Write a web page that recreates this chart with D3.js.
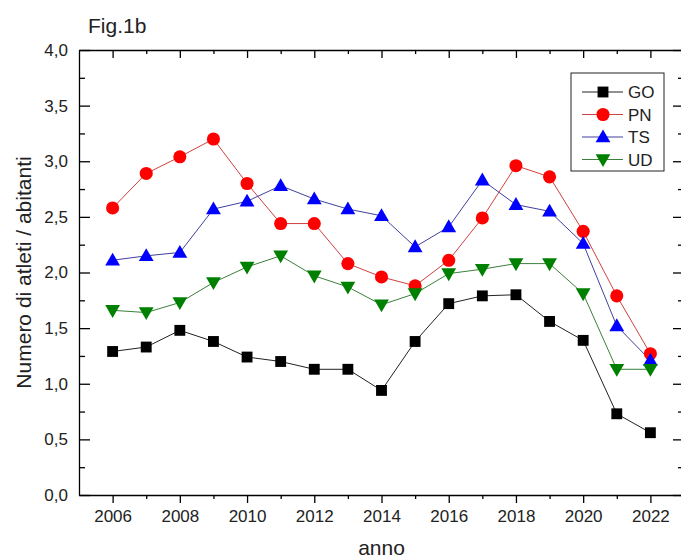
<!DOCTYPE html>
<html>
<head>
<meta charset="utf-8">
<script src="https://cdn.jsdelivr.net/npm/d3@7"></script>
<style>
  body { margin: 0; background: #fff; }
  svg { display: block; font-family: "Liberation Sans", Arial, sans-serif; }
  .axis path, .axis line { stroke: #000; stroke-width: 1.3; }
  .axis text { fill: #222; font-size: 17px; font-family: "Liberation Sans", Arial, sans-serif; }
</style>
</head>
<body>
<svg width="681" height="560"></svg>
<script>
var years = [2006, 2007, 2008, 2009, 2010, 2011, 2012, 2013, 2014, 2015, 2016, 2017, 2018, 2019, 2020, 2021, 2022];
var GO = [1.29, 1.33, 1.48, 1.38, 1.24, 1.20, 1.13, 1.13, 0.94, 1.38, 1.72, 1.79, 1.80, 1.56, 1.39, 0.73, 0.56];
var PN = [2.58, 2.89, 3.04, 3.20, 2.80, 2.44, 2.44, 2.08, 1.96, 1.88, 2.11, 2.49, 2.96, 2.86, 2.37, 1.79, 1.27];
var TS = [2.11, 2.15, 2.18, 2.57, 2.64, 2.78, 2.66, 2.57, 2.51, 2.23, 2.41, 2.83, 2.61, 2.55, 2.26, 1.52, 1.21];
var UD = [1.66, 1.64, 1.73, 1.91, 2.05, 2.15, 1.97, 1.87, 1.71, 1.81, 1.99, 2.03, 2.08, 2.08, 1.81, 1.13, 1.13];
var seriesNames = ["GO", "PN", "TS", "UD"];
var xTicks = [2006, 2008, 2010, 2012, 2014, 2016, 2018, 2020, 2022];
var yTicks = [0, 0.5, 1, 1.5, 2, 2.5, 3, 3.5, 4];

var series = [
  {name: "GO", values: GO, color: "#000000", line: "#222", shape: d3.symbolSquare, size: 118, rot: 0},
  {name: "PN", values: PN, color: "#ff0000", line: "#d04040", shape: d3.symbolCircle, size: 135, rot: 0},
  {name: "TS", values: TS, color: "#0000ff", line: "#4040a0", shape: d3.symbolTriangle, size: 95, rot: 0},
  {name: "UD", values: UD, color: "#008000", line: "#3a803a", shape: d3.symbolTriangle, size: 95, rot: 180}
];

var svg = d3.select("svg");
var margin = {top: 50, left: 79},
    width = 605,
    height = 445;

var x = d3.scaleLinear().domain([2005, 2023]).range([0, width]);
var y = d3.scaleLinear().domain([0, 4]).range([height, 0]);

var g = svg.append("g").attr("transform", "translate(" + margin.left + "," + margin.top + ")");

var fmt = function(d) { return d3.format(".1f")(d).replace(".", ","); };
var oddYears = d3.range(2007, 2023, 2);
var yMinor = d3.range(0.25, 4, 0.5);

// bottom axis, ticks outward
g.append("g").attr("class", "axis")
    .attr("transform", "translate(0," + height + ")")
    .call(d3.axisBottom(x).tickValues(xTicks).tickFormat(d3.format("d")).tickSizeInner(8).tickSizeOuter(0).tickPadding(7));
g.append("g").attr("class", "axis")
    .attr("transform", "translate(0," + height + ")")
    .call(d3.axisBottom(x).tickValues(oddYears).tickFormat("").tickSizeInner(4).tickSizeOuter(0))
    .select(".domain").remove();

// top axis, ticks inward
g.append("g").attr("class", "axis")
    .call(d3.axisTop(x).tickValues(xTicks).tickFormat("").tickSizeInner(-8).tickSizeOuter(0));
g.append("g").attr("class", "axis")
    .call(d3.axisTop(x).tickValues(oddYears).tickFormat("").tickSizeInner(-4).tickSizeOuter(0))
    .select(".domain").remove();

// left axis, ticks inward
g.append("g").attr("class", "axis")
    .call(d3.axisLeft(y).tickValues(yTicks).tickFormat(fmt).tickSizeInner(-11).tickSizeOuter(0).tickPadding(11));
g.append("g").attr("class", "axis")
    .call(d3.axisLeft(y).tickValues(yMinor).tickFormat("").tickSizeInner(-6).tickSizeOuter(0))
    .select(".domain").remove();

// right axis, ticks inward
g.append("g").attr("class", "axis")
    .attr("transform", "translate(" + width + ",0)")
    .call(d3.axisLeft(y).tickValues(yTicks).tickFormat("").tickSizeInner(11).tickSizeOuter(0));
g.append("g").attr("class", "axis")
    .attr("transform", "translate(" + width + ",0)")
    .call(d3.axisLeft(y).tickValues(yMinor).tickFormat("").tickSizeInner(6).tickSizeOuter(0))
    .select(".domain").remove();

// lines then markers
series.forEach(function(s) {
  var line = d3.line().x(function(d, i) { return x(years[i]); }).y(function(d) { return y(d); });
  g.append("path")
    .datum(s.values)
    .attr("fill", "none")
    .attr("stroke", s.line)
    .attr("stroke-width", 1)
    .attr("d", line);
});
series.forEach(function(s) {
  var sym = d3.symbol().type(s.shape).size(s.size);
  g.selectAll(null)
    .data(s.values)
    .enter().append("path")
    .attr("d", sym)
    .attr("fill", s.color)
    .attr("transform", function(d, i) {
      var dy = s.shape === d3.symbolTriangle ? (s.rot ? -1 : 1) : 0;
      return "translate(" + x(years[i]) + "," + (y(d) + dy) + ") rotate(" + s.rot + ")";
    });
});

// legend
var legend = svg.append("g").attr("transform", "translate(571,73)");
legend.append("rect")
  .attr("width", 93).attr("height", 98)
  .attr("fill", "#fff").attr("stroke", "#222").attr("stroke-width", 1);
series.forEach(function(s, i) {
  var row = legend.append("g").attr("transform", "translate(0," + (19 + i * 22.5) + ")");
  row.append("line").attr("x1", 11).attr("x2", 52).attr("stroke", s.line).attr("stroke-width", 1);
  row.append("path")
    .attr("d", d3.symbol().type(s.shape).size(s.size)())
    .attr("fill", s.color)
    .attr("transform", "translate(32," + (s.shape === d3.symbolTriangle ? (s.rot ? -1 : 1) : 0) + ") rotate(" + s.rot + ")");
  row.append("text")
    .attr("x", 57).attr("dy", "0.36em")
    .attr("font-size", 17).attr("fill", "#222")
    .text(s.name);
});

// titles
svg.append("text")
  .attr("x", 88).attr("y", 33)
  .attr("font-size", 21).attr("fill", "#222")
  .text("Fig.1b");

svg.append("text")
  .attr("x", margin.left + width / 2).attr("y", 555)
  .attr("text-anchor", "middle")
  .attr("font-size", 21).attr("fill", "#222")
  .text("anno");

svg.append("text")
  .attr("transform", "translate(31," + (margin.top + height / 2) + ") rotate(-90)")
  .attr("text-anchor", "middle")
  .attr("font-size", 21).attr("fill", "#222")
  .text("Numero di atleti / abitanti");
</script>
</body>
</html>
